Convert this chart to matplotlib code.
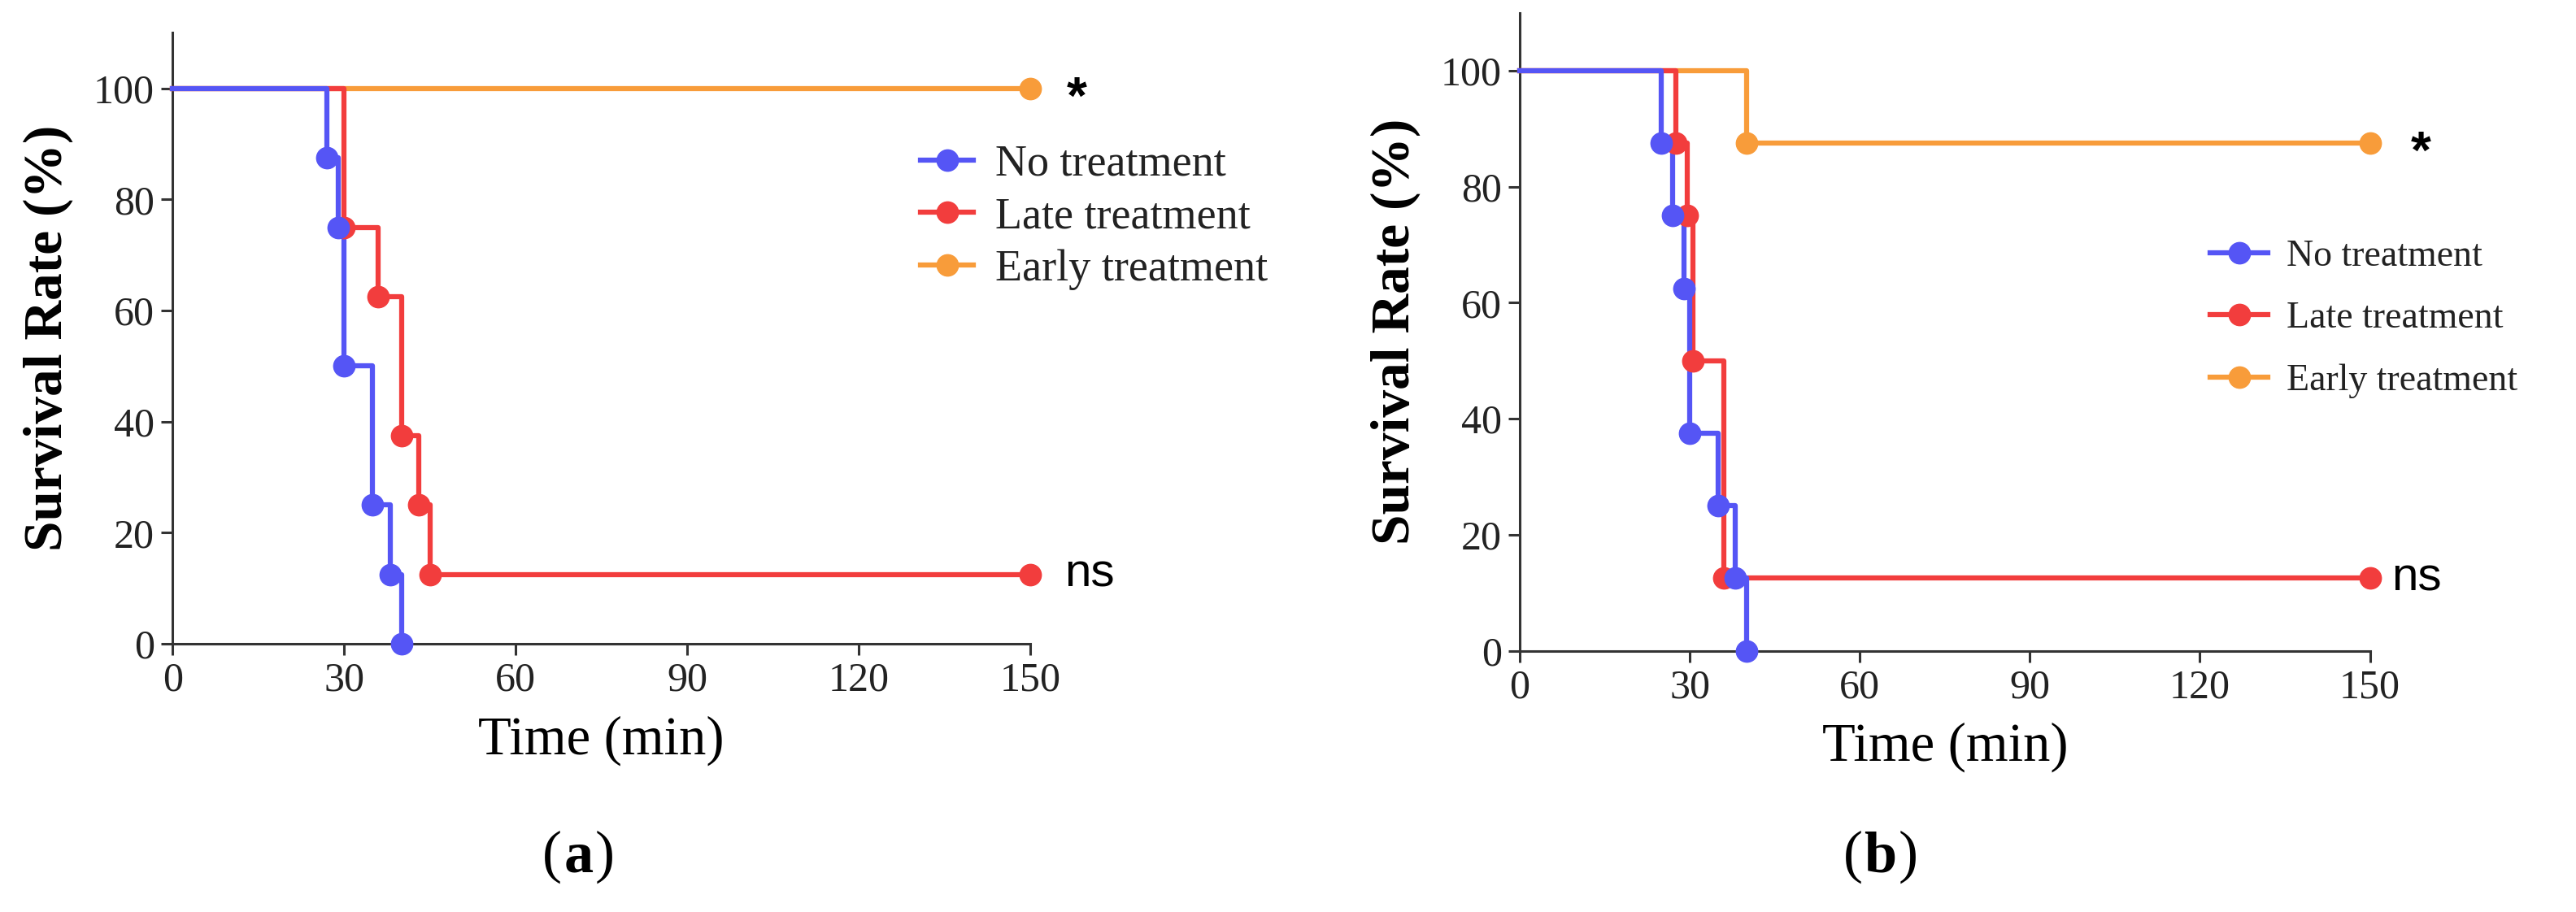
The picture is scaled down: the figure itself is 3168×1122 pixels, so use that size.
import matplotlib
matplotlib.use("Agg")
import matplotlib.pyplot as plt
from matplotlib.lines import Line2D

# ---- data (time in min, survival in %) ----
groups = ["No treatment", "Late treatment", "Early treatment"]
colors = ["#5555F5", "#F23D3D", "#F89C3A"]

a_no_t = [0, 27, 29, 30, 35, 38, 40]
a_no_s = [100, 87.5, 75, 50, 25, 12.5, 0]
a_late_t = [0, 30, 36, 40, 43, 45, 150]
a_late_s = [100, 75, 62.5, 37.5, 25, 12.5, 12.5]
a_early_t = [0, 150]
a_early_s = [100, 100]

b_no_t = [0, 25, 27, 29, 30, 35, 38, 40]
b_no_s = [100, 87.5, 75, 62.5, 37.5, 25, 12.5, 0]
b_late_t = [0, 27.5, 29.5, 30.5, 36, 150]
b_late_s = [100, 87.5, 75, 50, 12.5, 12.5]
b_early_t = [0, 40, 150]
b_early_s = [100, 87.5, 87.5]

x_ticks = [0, 30, 60, 90, 120, 150]
y_ticks = [0, 20, 40, 60, 80, 100]

serif = "Liberation Serif"
sans = "Liberation Sans"

fig = plt.figure(figsize=(31.68, 11.22), dpi=100)
ax_a = fig.add_axes([0.067, 0.294, 0.333, 0.670])
ax_b = fig.add_axes([0.590, 0.2865, 0.330, 0.6995])


def draw_panel(ax, series, sig_offsets, leg):
    # early, late, then no treatment so blue sits on top
    for (t, s), c in reversed(list(zip(series, colors))):
        ax.step(t, s, where="post", color=c, lw=4.5, clip_on=False, zorder=3)
        ax.plot(t[1:], s[1:], "o", color=c, ms=19, clip_on=False, zorder=4)

    ax.set_xlim(0, 150)
    ax.set_ylim(0, 110)
    ax.set_xticks(x_ticks)
    ax.set_yticks(y_ticks)
    for side in ["top", "right"]:
        ax.spines[side].set_visible(False)
    for side in ["left", "bottom"]:
        ax.spines[side].set_linewidth(2.2)
        ax.spines[side].set_color("#333333")
    ax.tick_params(direction="out", length=10, width=2.2, color="#333333",
                   labelsize=36, pad=6)
    for lab in ax.get_xticklabels() + ax.get_yticklabels():
        lab.set_fontfamily(serif)
        lab.set_color("#222222")

    ax.set_xlabel("Time (min)", fontfamily=serif, fontsize=48, labelpad=14)
    ax.set_ylabel("Survival Rate (%)", fontfamily=serif, fontsize=48.5,
                  fontweight="bold", labelpad=18)

    # significance marks next to the end points: ns for late, * for early
    (t_l, s_l), (t_e, s_e) = series[1], series[2]
    ax.annotate("ns", (t_l[-1], s_l[-1]), xytext=(sig_offsets[0], 0),
                textcoords="offset points", va="center", ha="left",
                fontfamily=sans, fontsize=42, annotation_clip=False)
    ax.annotate("*", (t_e[-1], s_e[-1]), xytext=(sig_offsets[1], -10),
                textcoords="offset points", va="center", ha="left",
                fontfamily=sans, fontsize=46, fontweight="bold",
                annotation_clip=False)

    anchor, size, hlen, spacing = leg
    handles = [Line2D([0], [0], color=c, lw=4.5, marker="o", ms=19) for c in colors]
    lg = ax.legend(handles, groups, loc="upper left", bbox_to_anchor=anchor,
                   frameon=False, prop={"family": serif, "size": size},
                   handlelength=hlen, handletextpad=0.5, labelspacing=spacing,
                   borderpad=0, borderaxespad=0)
    for txt in lg.get_texts():
        txt.set_color("#222222")


draw_panel(ax_a, [(a_no_t, a_no_s), (a_late_t, a_late_s), (a_early_t, a_early_s)],
           (30, 32), ((0.872, 0.818), 39, 1.2, 0.26))
draw_panel(ax_b, [(b_no_t, b_no_s), (b_late_t, b_late_s), (b_early_t, b_early_s)],
           (19, 36), ((0.812, 0.645), 33, 1.55, 0.74))


# panel captions "(a)" / "(b)" with a bold letter
def caption(xc, yc, letter):
    mid = fig.text(xc, yc, letter, fontfamily=serif, fontsize=52,
                   fontweight="bold", ha="center", va="center")
    fig.canvas.draw()
    bb = mid.get_window_extent()
    ymid = (bb.y0 + bb.y1) / 2
    fig.text(bb.x0 - 2, ymid, "(", transform=None, fontfamily=serif,
             fontsize=52, ha="right", va="center")
    fig.text(bb.x1 + 2, ymid, ")", transform=None, fontfamily=serif,
             fontsize=52, ha="left", va="center")


caption(0.2245, 0.06, "a")
caption(0.730, 0.06, "b")

fig.savefig("out.png", dpi=100, facecolor="white")
